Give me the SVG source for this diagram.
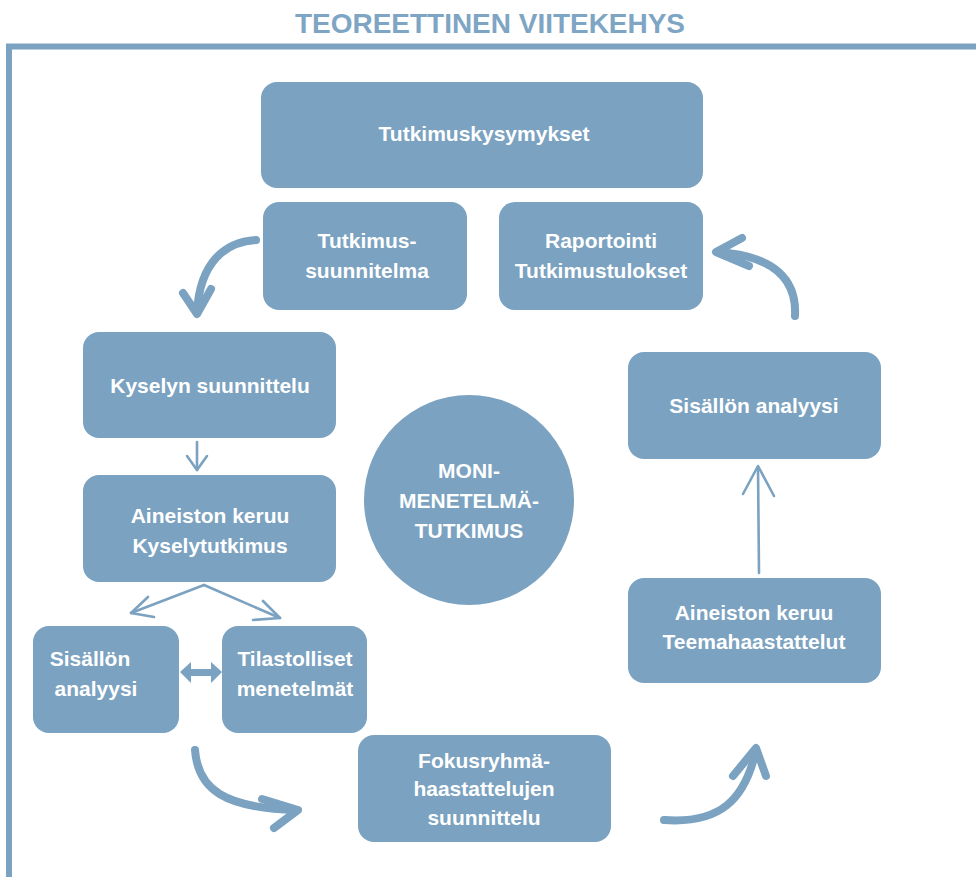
<svg xmlns="http://www.w3.org/2000/svg" width="976" height="877" viewBox="0 0 976 877">
<style>
.box{fill:#7BA2C0}
.t{font-family:"Liberation Sans",Arial,sans-serif;font-weight:bold;font-size:21px;fill:#ffffff;text-anchor:middle}
.brush{fill:none;stroke:#7BA2C0;stroke-width:8;stroke-linecap:round;stroke-linejoin:round}
.thin{fill:none;stroke:#7BA2C0;stroke-width:2.6;stroke-linecap:round;stroke-linejoin:round}
</style>
<rect x="0" y="0" width="976" height="877" fill="#ffffff"/>
<text x="490" y="33" font-family="Liberation Sans,Arial,sans-serif" font-weight="bold" font-size="28" fill="#7EA5C4" text-anchor="middle" textLength="390" lengthAdjust="spacingAndGlyphs">TEOREETTINEN VIITEKEHYS</text>
<rect x="9" y="46.5" width="1000" height="860" fill="none" stroke="#7BA2C0" stroke-width="6"/>

<g id="connectors">
  <path class="brush" d="M256,240 C225,242 200,262 197,312"/>
  <path class="brush" d="M183,293 L197,314 L211,289"/>
  <path class="brush" d="M795,316 C797,280 775,256 718,252"/>
  <path class="brush" d="M742,238 L716,252 L749,266"/>
  <path class="thin" d="M197,442 L197,470"/>
  <path class="thin" d="M187,456 L197,470 L207,456"/>
  <path class="thin" d="M204,585 L131,613"/>
  <path class="thin" d="M148,597 L131,613 L154,617"/>
  <path class="thin" d="M204,585 L280,618"/>
  <path class="thin" d="M263,601 L280,618 L253,620"/>
  <path fill="#7BA2C0" d="M180,672 L191,662 L191,669 L211,669 L211,662 L222,672 L211,683 L211,676 L191,676 L191,683 Z"/>
  <path class="brush" d="M195,750 C198,790 225,808 296,810"/>
  <path class="brush" d="M262,799 L298,810 L274,828"/>
  <path class="brush" d="M664,820 C720,824 745,800 756,750"/>
  <path class="brush" d="M733,776 L756,748 L766,776"/>
  <path class="thin" d="M759,573 L758,467"/>
  <path class="thin" d="M743,494 L758,466 L774,496"/>
</g>

<g id="n-tutkimuskysymykset">
  <rect class="box" x="261" y="82" width="442" height="106" rx="16"/>
  <text class="t" x="484" y="141">Tutkimuskysymykset</text>
</g>
<g id="n-tutkimussuunnitelma">
  <rect class="box" x="263" y="202" width="204" height="108" rx="16"/>
  <text class="t" x="367" y="248">Tutkimus-</text>
  <text class="t" x="367" y="278">suunnitelma</text>
</g>
<g id="n-raportointi">
  <rect class="box" x="499" y="202" width="204" height="108" rx="16"/>
  <text class="t" x="601" y="248">Raportointi</text>
  <text class="t" x="601" y="278">Tutkimustulokset</text>
</g>
<g id="n-kyselyn">
  <rect class="box" x="83" y="332" width="253" height="106" rx="16"/>
  <text class="t" x="210" y="393">Kyselyn suunnittelu</text>
</g>
<g id="n-aineiston-kysely">
  <rect class="box" x="83" y="475" width="253" height="107" rx="16"/>
  <text class="t" x="210" y="523">Aineiston keruu</text>
  <text class="t" x="210" y="553">Kyselytutkimus</text>
</g>
<g id="n-sisallon-left">
  <rect class="box" x="33" y="626" width="146" height="107" rx="16"/>
  <text class="t" x="90" y="666">Sisällön</text>
  <text class="t" x="96" y="696">analyysi</text>
</g>
<g id="n-tilastolliset">
  <rect class="box" x="222" y="626" width="145" height="107" rx="16"/>
  <text class="t" x="295" y="666">Tilastolliset</text>
  <text class="t" x="295" y="696">menetelmät</text>
</g>
<g id="n-fokus">
  <rect class="box" x="358" y="735" width="253" height="107" rx="16"/>
  <text class="t" x="484" y="768">Fokusryhmä-</text>
  <text class="t" x="484" y="796">haastattelujen</text>
  <text class="t" x="484" y="825">suunnittelu</text>
</g>
<g id="n-aineiston-teema">
  <rect class="box" x="628" y="578" width="253" height="105" rx="16"/>
  <text class="t" x="754" y="620">Aineiston keruu</text>
  <text class="t" x="754" y="649">Teemahaastattelut</text>
</g>
<g id="n-sisallon-right">
  <rect class="box" x="628" y="352" width="253" height="107" rx="16"/>
  <text class="t" x="754" y="413">Sisällön analyysi</text>
</g>
<g id="n-moni">
  <circle class="box" cx="469" cy="500" r="105"/>
  <text class="t" x="469" y="478">MONI-</text>
  <text class="t" x="469" y="508">MENETELMÄ-</text>
  <text class="t" x="469" y="538">TUTKIMUS</text>
</g>
</svg>
